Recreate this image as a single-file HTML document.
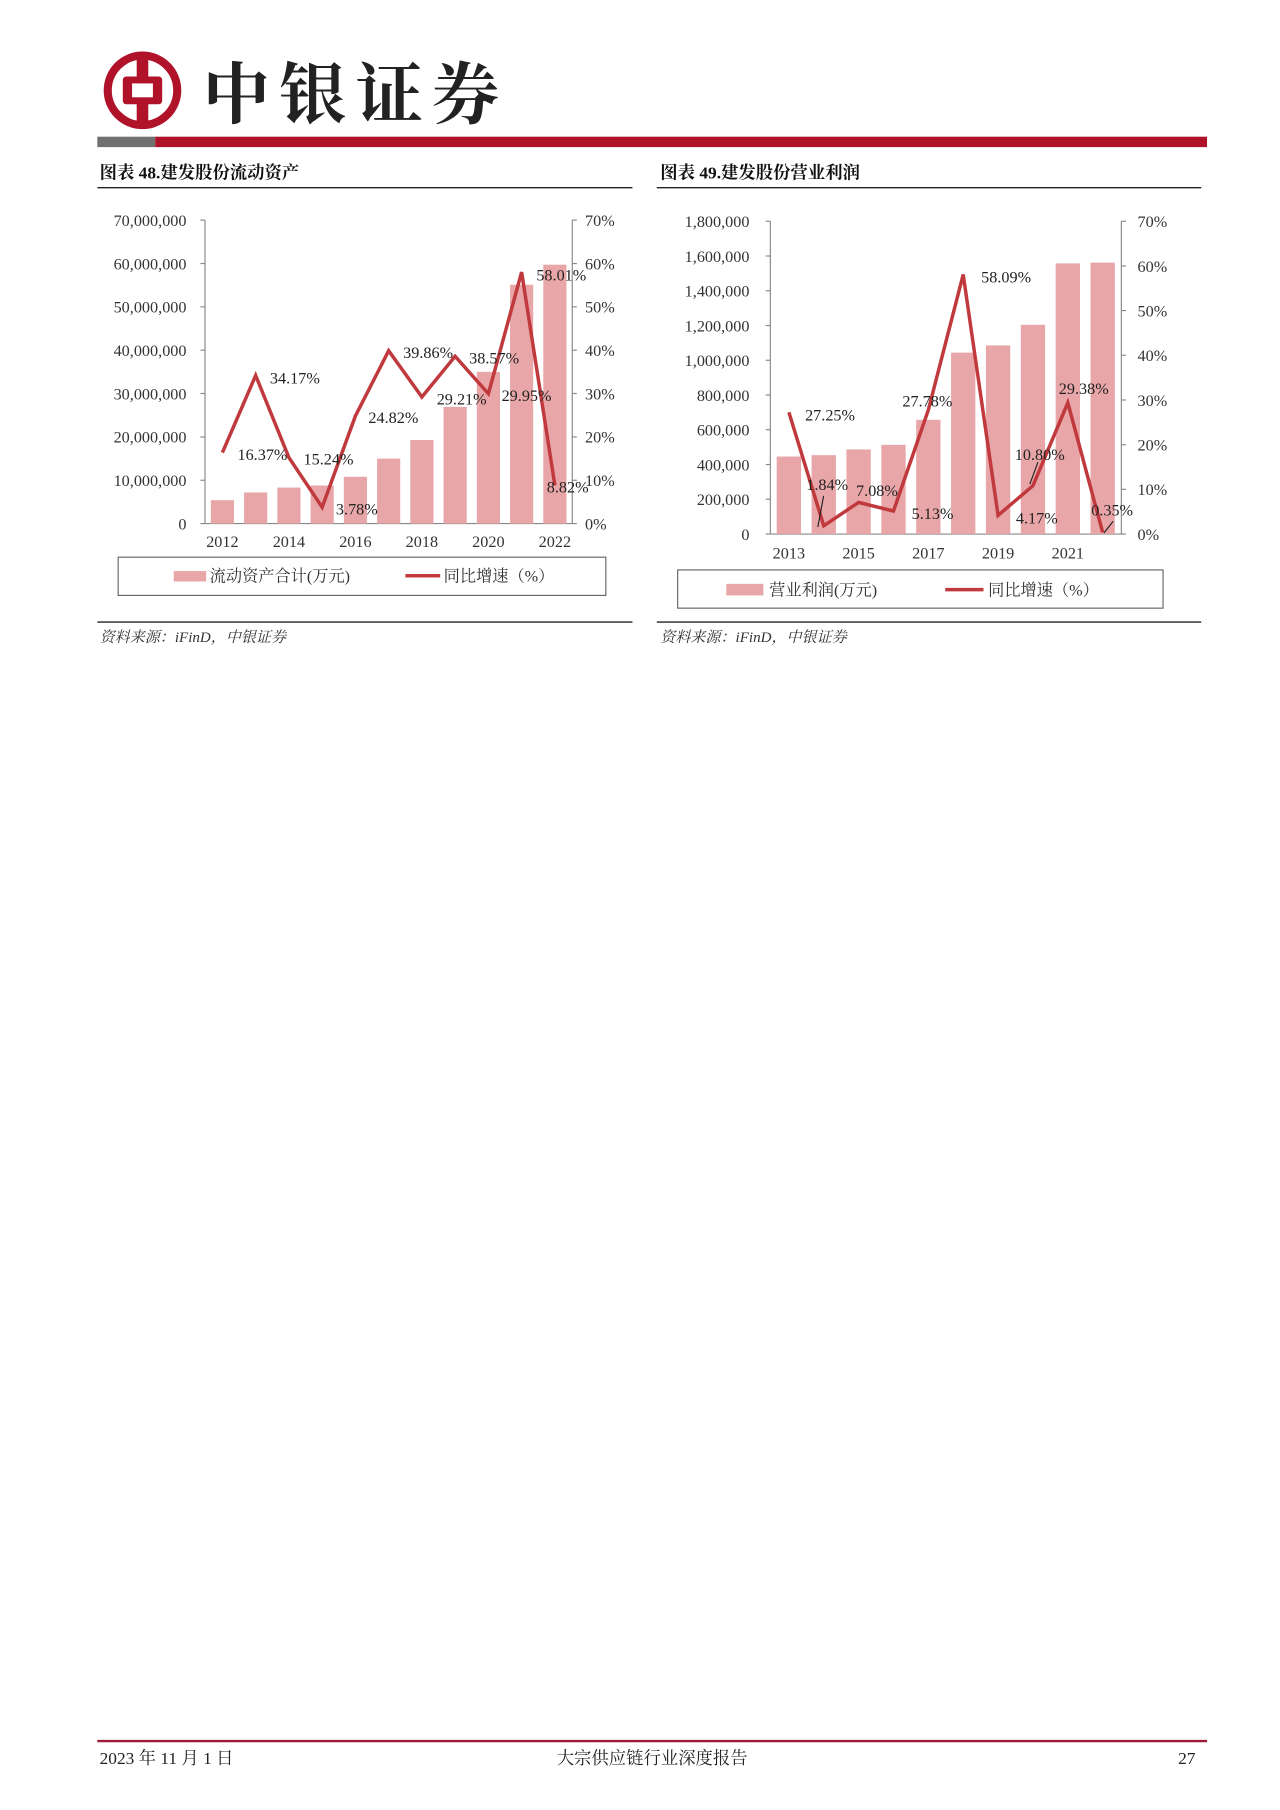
<!DOCTYPE html>
<html><head><meta charset="utf-8"><style>
html,body{margin:0;padding:0;background:#fff;width:1280px;height:1810px;overflow:hidden}
#w{width:1105px;height:1563px;transform:scale(1.1584);transform-origin:0 0;position:relative}
svg text{font-family:"Liberation Serif","Noto Serif CJK SC",serif}
</style></head><body><div id="w">
<svg width="1105" height="1563" viewBox="0 0 1105 1563" xmlns="http://www.w3.org/2000/svg">
<!-- logo -->
<circle cx="123" cy="78" r="30" fill="none" stroke="#b0122a" stroke-width="7"/>
<rect x="118" y="46" width="10" height="64" fill="#b0122a"/>
<rect x="106" y="66" width="34" height="24" rx="3" fill="#b0122a"/>
<rect x="114" y="72" width="18" height="12" fill="#fff"/>
<text x="175" y="102" font-size="58" font-weight="bold" fill="#222" letter-spacing="8" style="font-family:'Noto Serif CJK SC',serif">中银证券</text>
<rect x="84" y="118" width="50" height="9" fill="#707070"/>
<rect x="134" y="118" width="908" height="9" fill="#b0122a"/>
<!-- titles -->
<text x="86" y="154" font-size="15" font-weight="bold" fill="#111">图表 48.建发股份流动资产</text>
<line x1="84" y1="162" x2="546" y2="162" stroke="#222" stroke-width="1.2"/>
<text x="570" y="154" font-size="15" font-weight="bold" fill="#111">图表 49.建发股份营业利润</text>
<line x1="567" y1="162" x2="1037" y2="162" stroke="#222" stroke-width="1.2"/>

<!-- chart 1 -->
<g font-size="14" fill="#333">
<line x1="177" y1="190" x2="177" y2="452" stroke="#888"/>
<line x1="494" y1="190" x2="494" y2="452" stroke="#888"/>
<line x1="177" y1="452" x2="494" y2="452" stroke="#888"/>
<g text-anchor="end">
<text x="161" y="457">0</text><text x="161" y="419.6">10,000,000</text><text x="161" y="382.2">20,000,000</text><text x="161" y="344.7">30,000,000</text><text x="161" y="307.3">40,000,000</text><text x="161" y="269.9">50,000,000</text><text x="161" y="232.5">60,000,000</text><text x="161" y="195">70,000,000</text>
</g>
<g>
<text x="505" y="457">0%</text><text x="505" y="419.6">10%</text><text x="505" y="382.2">20%</text><text x="505" y="344.7">30%</text><text x="505" y="307.3">40%</text><text x="505" y="269.9">50%</text><text x="505" y="232.5">60%</text><text x="505" y="195">70%</text>
</g>
<g stroke="#888"><line x1="173" y1="452" x2="177" y2="452"/><line x1="173" y1="414.6" x2="177" y2="414.6"/><line x1="173" y1="377.2" x2="177" y2="377.2"/><line x1="173" y1="339.7" x2="177" y2="339.7"/><line x1="173" y1="302.3" x2="177" y2="302.3"/><line x1="173" y1="264.9" x2="177" y2="264.9"/><line x1="173" y1="227.5" x2="177" y2="227.5"/><line x1="173" y1="190" x2="177" y2="190"/>
<line x1="494" y1="452" x2="498" y2="452"/><line x1="494" y1="414.6" x2="498" y2="414.6"/><line x1="494" y1="377.2" x2="498" y2="377.2"/><line x1="494" y1="339.7" x2="498" y2="339.7"/><line x1="494" y1="302.3" x2="498" y2="302.3"/><line x1="494" y1="264.9" x2="498" y2="264.9"/><line x1="494" y1="227.5" x2="498" y2="227.5"/><line x1="494" y1="190" x2="498" y2="190"/></g>
<g fill="#e8a6a8">
<rect x="182" y="431.8" width="20" height="20.2"/><rect x="210.7" y="425.1" width="20" height="26.9"/><rect x="239.4" y="420.9" width="20" height="31.1"/><rect x="268.1" y="419.1" width="20" height="32.9"/><rect x="296.8" y="411.6" width="20" height="40.4"/><rect x="325.5" y="395.9" width="20" height="56.1"/><rect x="354.2" y="379.8" width="20" height="72.2"/><rect x="382.9" y="351.3" width="20" height="100.7"/><rect x="411.6" y="321" width="20" height="131"/><rect x="440.3" y="245.8" width="20" height="206.2"/><rect x="469" y="228.5" width="20" height="223.5"/>
</g>
<polyline fill="none" stroke="#c0393d" stroke-width="3" points="192,390.7 220.7,324.1 249.4,395 278.1,437.9 306.8,359.1 335.5,302.8 364.2,342.7 392.9,307.6 421.6,339.9 450.3,234.9 479,419"/>
<g text-anchor="middle"><text x="192" y="472">2012</text><text x="249.4" y="472">2014</text><text x="306.8" y="472">2016</text><text x="364.2" y="472">2018</text><text x="421.6" y="472">2020</text><text x="479" y="472">2022</text></g>
<g fill="#222">
<text x="233" y="331">34.17%</text><text x="205" y="397">16.37%</text><text x="262" y="401">15.24%</text><text x="290" y="444">3.78%</text><text x="318" y="365">24.82%</text><text x="348" y="309">39.86%</text><text x="377" y="349">29.21%</text><text x="405" y="314">38.57%</text><text x="433" y="346">29.95%</text><text x="463" y="242">58.01%</text><text x="472" y="425">8.82%</text>
</g>
<rect x="102" y="481" width="421" height="33" fill="none" stroke="#666"/>
<rect x="150" y="493" width="28" height="9" fill="#e8a6a8"/>
<text x="181" y="502">流动资产合计(万元)</text>
<line x1="350" y1="497" x2="380" y2="497" stroke="#c0393d" stroke-width="3"/>
<text x="383" y="502">同比增速（%）</text>
</g>

<!-- chart 2 -->
<g font-size="14" fill="#333">
<line x1="665" y1="191" x2="665" y2="461" stroke="#888"/>
<line x1="968" y1="191" x2="968" y2="461" stroke="#888"/>
<line x1="665" y1="461" x2="968" y2="461" stroke="#888"/>
<g text-anchor="end">
<text x="647" y="466">0</text><text x="647" y="436">200,000</text><text x="647" y="406">400,000</text><text x="647" y="376">600,000</text><text x="647" y="346">800,000</text><text x="647" y="316">1,000,000</text><text x="647" y="286">1,200,000</text><text x="647" y="256">1,400,000</text><text x="647" y="226">1,600,000</text><text x="647" y="196">1,800,000</text>
</g>
<g><text x="982" y="466">0%</text><text x="982" y="427.4">10%</text><text x="982" y="388.9">20%</text><text x="982" y="350.3">30%</text><text x="982" y="311.7">40%</text><text x="982" y="273.1">50%</text><text x="982" y="234.6">60%</text><text x="982" y="196">70%</text></g>
<g stroke="#888"><line x1="968" y1="461" x2="972" y2="461"/><line x1="968" y1="422.4" x2="972" y2="422.4"/><line x1="968" y1="383.9" x2="972" y2="383.9"/><line x1="968" y1="345.3" x2="972" y2="345.3"/><line x1="968" y1="306.7" x2="972" y2="306.7"/><line x1="968" y1="268.1" x2="972" y2="268.1"/><line x1="968" y1="229.6" x2="972" y2="229.6"/><line x1="968" y1="191" x2="972" y2="191"/>
<line x1="661" y1="461" x2="665" y2="461"/><line x1="661" y1="431" x2="665" y2="431"/><line x1="661" y1="401" x2="665" y2="401"/><line x1="661" y1="371" x2="665" y2="371"/><line x1="661" y1="341" x2="665" y2="341"/><line x1="661" y1="311" x2="665" y2="311"/><line x1="661" y1="281" x2="665" y2="281"/><line x1="661" y1="251" x2="665" y2="251"/><line x1="661" y1="221" x2="665" y2="221"/><line x1="661" y1="191" x2="665" y2="191"/></g>
<g fill="#e8a6a8">
<rect x="670.5" y="394.1" width="21" height="66.9"/><rect x="700.6" y="392.9" width="21" height="68.1"/><rect x="730.7" y="388" width="21" height="73"/><rect x="760.8" y="384" width="21" height="77"/><rect x="790.9" y="362.4" width="21" height="98.6"/><rect x="821" y="304.4" width="21" height="156.6"/><rect x="851.1" y="298.2" width="21" height="162.8"/><rect x="881.2" y="280.4" width="21" height="180.6"/><rect x="911.3" y="227.4" width="21" height="233.6"/><rect x="941.4" y="226.7" width="21" height="234.3"/>
</g>
<polyline fill="none" stroke="#c0393d" stroke-width="3" points="681,355.9 711.1,453.9 741.2,433.7 771.3,441.2 801.4,353.9 831.5,237 861.6,444.9 891.7,419.3 921.8,347.7 951.9,459.6"/>
<g stroke="#222"><line x1="711" y1="428" x2="706" y2="455"/><line x1="896" y1="399" x2="889" y2="418"/><line x1="961" y1="450" x2="953" y2="460"/></g>
<g text-anchor="middle"><text x="681" y="482">2013</text><text x="741.2" y="482">2015</text><text x="801.4" y="482">2017</text><text x="861.6" y="482">2019</text><text x="921.8" y="482">2021</text></g>
<g fill="#222">
<text x="695" y="363">27.25%</text><text x="696" y="423">1.84%</text><text x="739" y="428">7.08%</text><text x="787" y="448">5.13%</text><text x="779" y="351">27.78%</text><text x="847" y="244">58.09%</text><text x="876" y="397">10.80%</text><text x="877" y="452">4.17%</text><text x="914" y="340">29.38%</text><text x="942" y="445">0.35%</text>
</g>
<rect x="585" y="492" width="419" height="33" fill="none" stroke="#666"/>
<rect x="627" y="504" width="32" height="10" fill="#e8a6a8"/>
<text x="664" y="514">营业利润(万元)</text>
<line x1="816" y1="509" x2="849" y2="509" stroke="#c0393d" stroke-width="3"/>
<text x="853" y="514">同比增速（%）</text>
</g>

<line x1="84" y1="537" x2="546" y2="537" stroke="#222" stroke-width="1.2"/>
<line x1="567" y1="537" x2="1037" y2="537" stroke="#222" stroke-width="1.2"/>
<text x="86" y="554" font-size="13" font-style="italic" fill="#333">资料来源：iFinD，中银证券</text>
<text x="570" y="554" font-size="13" font-style="italic" fill="#333">资料来源：iFinD，中银证券</text>

<line x1="84" y1="1503" x2="1042" y2="1503" stroke="#9c1a38" stroke-width="2"/>
<text x="86" y="1523" font-size="15" fill="#222">2023 年 11 月 1 日</text>
<text x="563" y="1523" font-size="15" fill="#222" text-anchor="middle">大宗供应链行业深度报告</text>
<text x="1032" y="1523" font-size="15" fill="#222" text-anchor="end">27</text>
</svg>
</div></body></html>
